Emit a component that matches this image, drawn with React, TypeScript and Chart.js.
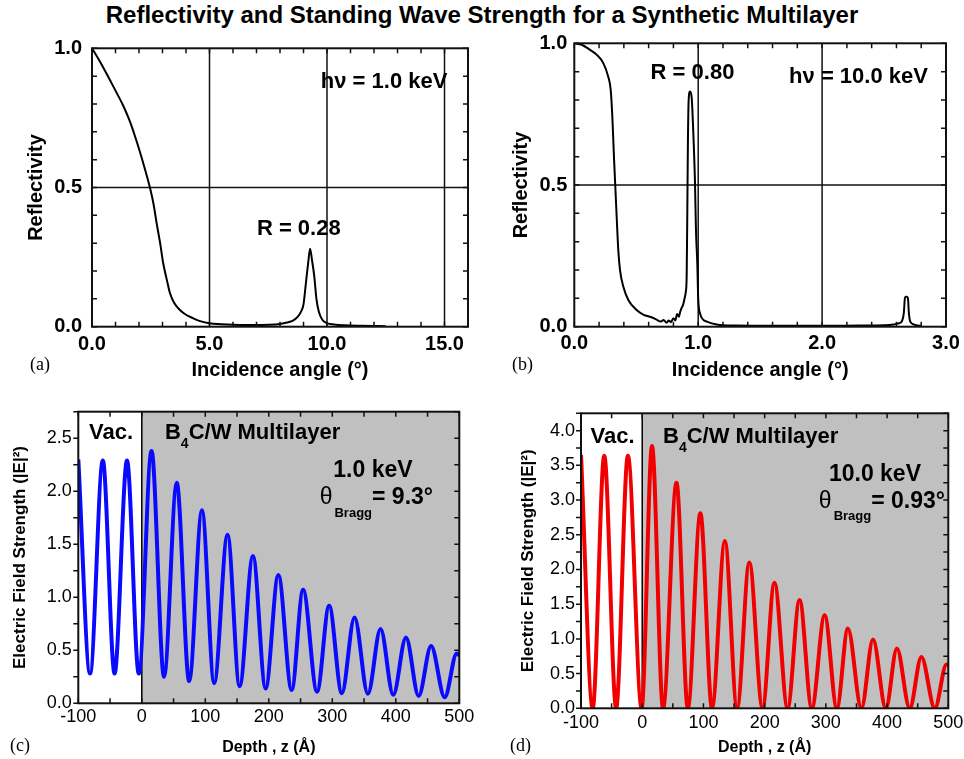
import React, { useEffect, useRef } from "react";
import { Chart, registerables } from "chart.js";

Chart.register(...registerables);

const SANS = "'Liberation Sans', Arial, Helvetica, sans-serif";
const SERIF = "'Liberation Serif', 'Times New Roman', serif";

const MAIN_TITLE = "Reflectivity and Standing Wave Strength for a Synthetic Multilayer";

// ---------- Panel (a): reflectivity at 1.0 keV ----------
const angleA = [0, 0.25, 0.49, 0.8, 1.05, 1.34, 1.6, 1.83, 2.05, 2.26, 2.47, 2.62, 2.75, 2.9, 3.03, 3.18, 3.32, 3.5, 3.74, 4.0, 4.31, 4.6, 5.0, 5.5, 6.0, 6.5, 7.0, 7.5, 8.0, 8.3, 8.55, 8.75, 8.9, 9.0, 9.1, 9.2, 9.28, 9.36, 9.46, 9.55, 9.65, 9.8, 10.0, 10.3, 10.8, 11.5, 12.5];
const reflA = [1.0, 0.965, 0.929, 0.88, 0.84, 0.792, 0.74, 0.684, 0.625, 0.564, 0.498, 0.44, 0.372, 0.3, 0.228, 0.17, 0.12, 0.085, 0.06, 0.043, 0.03, 0.02, 0.012, 0.009, 0.007, 0.006, 0.006, 0.007, 0.01, 0.015, 0.022, 0.035, 0.055, 0.08, 0.155, 0.23, 0.28, 0.24, 0.18, 0.1, 0.055, 0.025, 0.013, 0.008, 0.005, 0.003, 0.002];
const xTicksA = [0, 5, 10, 15];
const gridXA = [5, 10, 15];

// ---------- Panel (b): reflectivity at 10.0 keV ----------
const angleB = [0, 0.06, 0.127, 0.18, 0.234, 0.274, 0.294, 0.307, 0.32, 0.331, 0.342, 0.355, 0.369, 0.396, 0.436, 0.503, 0.56, 0.611, 0.66, 0.7, 0.72, 0.746, 0.76, 0.78, 0.8, 0.815, 0.83, 0.845, 0.853, 0.865, 0.88, 0.89, 0.899, 0.907, 0.912, 0.917, 0.923, 0.934, 0.947, 0.96, 0.974, 0.982, 0.993, 1.0, 1.015, 1.04, 1.07, 1.15, 1.3, 1.6, 2.0, 2.3, 2.5, 2.58, 2.62, 2.645, 2.66, 2.668, 2.675, 2.685, 2.693, 2.7, 2.71, 2.73, 2.76, 2.8];
const reflB = [1.0, 0.995, 0.977, 0.96, 0.93, 0.882, 0.835, 0.741, 0.6, 0.494, 0.388, 0.27, 0.2, 0.141, 0.094, 0.059, 0.042, 0.035, 0.026, 0.018, 0.024, 0.014, 0.022, 0.016, 0.03, 0.022, 0.045, 0.035, 0.05, 0.065, 0.08, 0.1, 0.12, 0.18, 0.4, 0.65, 0.8, 0.83, 0.81, 0.69, 0.51, 0.34, 0.22, 0.1, 0.047, 0.025, 0.018, 0.008, 0.004, 0.003, 0.003, 0.004, 0.005, 0.008, 0.012, 0.02, 0.05, 0.1, 0.106, 0.106, 0.1, 0.05, 0.02, 0.01, 0.005, 0.003];
const xTicksB = [0, 1, 2, 3];
const gridXB = [1, 2];

const yTicksAB = [0, 0.5, 1.0];
const gridYAB = [0.5];

// ---------- Panel (c): |E|^2 at 1.0 keV ----------
const depthC = [-100, -81.5, -61.4, -42.9, -23.3, -4.8, 15.3, 35, 55, 74.6, 94.7, 114, 135, 154, 175, 195, 215, 236, 254, 276, 295, 315, 335, 356, 376, 396, 416, 436, 455.6, 477, 496, 500];
const fieldC = [2.3, 0.28, 2.29, 0.28, 2.29, 0.28, 2.38, 0.25, 2.08, 0.21, 1.82, 0.19, 1.59, 0.16, 1.39, 0.14, 1.21, 0.125, 1.07, 0.11, 0.92, 0.095, 0.81, 0.09, 0.7, 0.08, 0.62, 0.07, 0.54, 0.056, 0.47, 0.45];
const yTicksC = [0, 0.5, 1.0, 1.5, 2.0, 2.5];

// ---------- Panel (d): |E|^2 at 10.0 keV ----------
const depthD = [-100, -80.9, -62, -42.6, -23.4, -1, 16, 34, 56, 74.5, 95, 114, 135, 155, 175, 196.5, 216, 237.5, 257, 277, 298, 318, 336, 358, 377, 398, 416, 437, 456, 478, 497, 500];
const fieldD = [3.65, 0, 3.64, 0, 3.64, 0, 3.78, 0, 3.25, 0, 2.81, 0, 2.41, 0, 2.1, 0, 1.81, 0, 1.56, 0, 1.34, 0, 1.15, 0, 0.99, 0, 0.86, 0, 0.74, 0, 0.63, 0.62];
const yTicksD = [0, 0.5, 1.0, 1.5, 2.0, 2.5, 3.0, 3.5, 4.0];

const xTicksCD = [-100, 0, 100, 200, 300, 400, 500];

type Part = { text: string; font: string; dy?: number; gap?: number };
type Ann = { x: number; y: number; align: "left" | "center" | "right"; parts: Part[] };

type PanelCfg = {
  box: { x: number; y: number; w: number; h: number };
  area: { l: number; t: number; r: number; b: number };
  xs: number[];
  ys: number[];
  color: string;
  lineWidth: number;
  xMin: number; xMax: number; yMin: number; yMax: number;
  xTicks: number[]; yTicks: number[];
  xDigits: number; yDigits: number;
  tickFont: { size: number; weight: string };
  xTitle: string; yTitle: string;
  xTitleSize: number; yTitleSize: number;
  xLabelPad: number; yLabelPad: number;
  xTitlePad: number; yTitlePad: number;
  minorX: number; minorY: number;
  gridX: number[]; gridY: number[];
  shadeFrom: number | null;
  leftTicksOut: boolean;
  anns: Ann[];
};

function steps(min: number, max: number, step: number): number[] {
  const out: number[] = [];
  const n = Math.round((max - min) / step);
  for (let i = 0; i <= n; i++) out.push(min + i * step);
  return out;
}

function makePlugin(cfg: PanelCfg) {
  return {
    id: "panelDecor",
    beforeDatasetsDraw(chart: any) {
      const { ctx, chartArea: ca } = chart;
      const xs = chart.scales.x, ys = chart.scales.y;
      ctx.save();
      if (cfg.shadeFrom !== null) {
        const px = xs.getPixelForValue(cfg.shadeFrom);
        ctx.fillStyle = "#c0c0c0";
        ctx.fillRect(px, ca.top, ca.right - px, ca.bottom - ca.top);
        ctx.strokeStyle = "#000";
        ctx.lineWidth = 1.5;
        ctx.beginPath();
        ctx.moveTo(px, ca.top);
        ctx.lineTo(px, ca.bottom);
        ctx.stroke();
      }
      ctx.strokeStyle = "#111";
      ctx.lineWidth = 1.5;
      for (const g of cfg.gridX) {
        const px = xs.getPixelForValue(g);
        ctx.beginPath(); ctx.moveTo(px, ca.top); ctx.lineTo(px, ca.bottom); ctx.stroke();
      }
      for (const g of cfg.gridY) {
        const py = ys.getPixelForValue(g);
        ctx.beginPath(); ctx.moveTo(ca.left, py); ctx.lineTo(ca.right, py); ctx.stroke();
      }
      ctx.restore();
    },
    afterDatasetsDraw(chart: any) {
      const { ctx, chartArea: ca } = chart;
      const xs = chart.scales.x, ys = chart.scales.y;
      ctx.save();
      ctx.strokeStyle = "#111";
      ctx.lineWidth = 1.5;
      const L = 5;
      for (const v of steps(cfg.xMin, cfg.xMax, cfg.minorX)) {
        const px = xs.getPixelForValue(v);
        ctx.beginPath();
        ctx.moveTo(px, ca.bottom); ctx.lineTo(px, ca.bottom - L);
        ctx.moveTo(px, ca.top); ctx.lineTo(px, ca.top + L);
        ctx.stroke();
      }
      for (const v of steps(cfg.yMin, cfg.yMax, cfg.minorY)) {
        const py = ys.getPixelForValue(v);
        ctx.beginPath();
        if (cfg.leftTicksOut) { ctx.moveTo(ca.left, py); ctx.lineTo(ca.left - L, py); }
        else { ctx.moveTo(ca.left, py); ctx.lineTo(ca.left + L, py); }
        ctx.moveTo(ca.right, py); ctx.lineTo(ca.right - L, py);
        ctx.stroke();
      }
      ctx.lineWidth = 2;
      ctx.strokeStyle = "#111";
      ctx.strokeRect(ca.left, ca.top, ca.right - ca.left, ca.bottom - ca.top);

      for (const a of cfg.anns) {
        const widths = a.parts.map((p) => { ctx.font = p.font; return ctx.measureText(p.text).width + (p.gap || 0); });
        const total = widths.reduce((s, w) => s + w, 0);
        let px = xs.getPixelForValue(a.x);
        if (a.align === "center") px -= total / 2;
        else if (a.align === "right") px -= total;
        const py = ys.getPixelForValue(a.y);
        a.parts.forEach((p, i) => {
          ctx.font = p.font;
          ctx.fillStyle = "#000";
          ctx.textAlign = "left";
          ctx.textBaseline = "middle";
          ctx.fillText(p.text, px + (p.gap || 0), py + (p.dy || 0));
          px += widths[i];
        });
      }
      ctx.restore();
    },
  };
}

function buildConfig(cfg: PanelCfg): any {
  const { box, area } = cfg;
  const padTop = area.t - box.y;
  const padRight = box.x + box.w - area.r;
  const yAxisW = area.l - box.x;
  const xAxisH = box.y + box.h - area.b;
  const pts = cfg.xs.map((x, i) => ({ x, y: cfg.ys[i] }));
  return {
    type: "line",
    data: {
      datasets: [
        {
          data: pts,
          borderColor: cfg.color,
          borderWidth: cfg.lineWidth,
          pointRadius: 0,
          fill: false,
          cubicInterpolationMode: "monotone",
        },
      ],
    },
    options: {
      animation: false,
      responsive: false,
      maintainAspectRatio: false,
      devicePixelRatio: 1,
      events: [],
      layout: { padding: { left: 0, top: padTop, right: padRight, bottom: 0 } },
      plugins: { legend: { display: false }, tooltip: { enabled: false }, title: { display: false } },
      scales: {
        x: {
          type: "linear",
          position: "bottom",
          min: cfg.xMin,
          max: cfg.xMax,
          grid: { display: false, drawTicks: false },
          border: { display: false },
          ticks: {
            color: "#000",
            font: { family: SANS, size: cfg.tickFont.size, weight: cfg.tickFont.weight },
            padding: cfg.xLabelPad,
            maxRotation: 0,
            autoSkip: false,
            callback: (v: number) => v.toFixed(cfg.xDigits),
          },
          afterBuildTicks: (s: any) => { s.ticks = cfg.xTicks.map((v) => ({ value: v })); },
          afterFit: (s: any) => { s.height = xAxisH; s.paddingLeft = 0; s.paddingRight = 0; },
          title: {
            display: true,
            text: cfg.xTitle,
            color: "#000",
            font: { family: SANS, size: cfg.xTitleSize, weight: "bold" },
            padding: { top: 0, bottom: cfg.xTitlePad },
          },
        },
        y: {
          type: "linear",
          position: "left",
          min: cfg.yMin,
          max: cfg.yMax,
          grid: { display: false, drawTicks: false },
          border: { display: false },
          ticks: {
            color: "#000",
            font: { family: SANS, size: cfg.tickFont.size, weight: cfg.tickFont.weight },
            padding: cfg.yLabelPad,
            autoSkip: false,
            callback: (v: number) => v.toFixed(cfg.yDigits),
          },
          afterBuildTicks: (s: any) => { s.ticks = cfg.yTicks.map((v) => ({ value: v })); },
          afterFit: (s: any) => { s.width = yAxisW; s.paddingTop = 0; s.paddingBottom = 0; },
          title: {
            display: true,
            text: cfg.yTitle,
            color: "#000",
            font: { family: SANS, size: cfg.yTitleSize, weight: "bold" },
            padding: { top: cfg.yTitlePad, bottom: 0 },
          },
        },
      },
    },
    plugins: [makePlugin(cfg)],
  };
}

const B22 = `bold 22px ${SANS}`;
const B23 = `bold 23px ${SANS}`;
const SUB4 = `bold 14px ${SANS}`;
const SUBB = `bold 13px ${SANS}`;
const THETA = `23px ${SANS}`;

const panelA: PanelCfg = {
  box: { x: 0, y: 30, w: 480, h: 352 },
  area: { l: 92, t: 48.3, r: 468, b: 326.7 },
  xs: angleA, ys: reflA, color: "#000", lineWidth: 2,
  xMin: 0, xMax: 16, yMin: 0, yMax: 1,
  xTicks: xTicksA, yTicks: yTicksAB, xDigits: 1, yDigits: 1,
  tickFont: { size: 20, weight: "bold" },
  xTitle: "Incidence angle (°)", yTitle: "Reflectivity",
  xTitleSize: 20, yTitleSize: 20,
  xLabelPad: 6, yLabelPad: 10, xTitlePad: 0, yTitlePad: 24.7,
  minorX: 1, minorY: 0.1,
  gridX: gridXA, gridY: gridYAB,
  shadeFrom: null, leftTicksOut: false,
  anns: [
    { x: 12.43, y: 0.88, align: "center", parts: [{ text: "hν = 1.0 keV", font: B22 }] },
    { x: 8.8, y: 0.351, align: "center", parts: [{ text: "R = 0.28", font: B22 }] },
  ],
};

const panelB: PanelCfg = {
  box: { x: 480, y: 30, w: 484, h: 352 },
  area: { l: 574.3, t: 43.3, r: 946, b: 326.7 },
  xs: angleB, ys: reflB, color: "#000", lineWidth: 2,
  xMin: 0, xMax: 3, yMin: 0, yMax: 1,
  xTicks: xTicksB, yTicks: yTicksAB, xDigits: 1, yDigits: 1,
  tickFont: { size: 20, weight: "bold" },
  xTitle: "Incidence angle (°)", yTitle: "Reflectivity",
  xTitleSize: 20, yTitleSize: 20,
  xLabelPad: 4.5, yLabelPad: 7, xTitlePad: 0, yTitlePad: 29.7,
  minorX: 0.2, minorY: 0.1,
  gridX: gridXB, gridY: gridYAB,
  shadeFrom: null, leftTicksOut: false,
  anns: [
    { x: 0.954, y: 0.894, align: "center", parts: [{ text: "R = 0.80", font: B22 }] },
    { x: 2.294, y: 0.882, align: "center", parts: [{ text: "hν = 10.0 keV", font: B22 }] },
  ],
};

const panelC: PanelCfg = {
  box: { x: 0, y: 390, w: 480, h: 369 },
  area: { l: 78.3, t: 411.7, r: 459.3, b: 703.3 },
  xs: depthC, ys: fieldC, color: "#0a0aff", lineWidth: 4,
  xMin: -100, xMax: 500, yMin: 0, yMax: 2.75,
  xTicks: xTicksCD, yTicks: yTicksC, xDigits: 0, yDigits: 1,
  tickFont: { size: 18, weight: "normal" },
  xTitle: "Depth , z (Å)", yTitle: "Electric Field Strength (|E|²)",
  xTitleSize: 16, yTitleSize: 17,
  xLabelPad: 3, yLabelPad: 6.6, xTitlePad: 1.4, yTitlePad: 9.8,
  minorX: 50, minorY: 0.25,
  gridX: [], gridY: [],
  shadeFrom: 0, leftTicksOut: true,
  anns: [
    { x: -48.5, y: 2.552, align: "center", parts: [{ text: "Vac.", font: B22 }] },
    { x: 36.5, y: 2.552, align: "left", parts: [{ text: "B", font: B22 }, { text: "4", font: SUB4, dy: 11 }, { text: "C/W Multilayer", font: B22 }] },
    { x: 364, y: 2.193, align: "center", parts: [{ text: "1.0 keV", font: B23 }] },
    { x: 458.6, y: 1.936, align: "right", parts: [{ text: "θ", font: THETA }, { text: "Bragg", font: SUBB, dy: 15, gap: 2 }, { text: "= 9.3°", font: B23 }] },
  ],
};

const panelD: PanelCfg = {
  box: { x: 480, y: 390, w: 484, h: 369 },
  area: { l: 581, t: 413.3, r: 948.3, b: 708.3 },
  xs: depthD, ys: fieldD, color: "#f00000", lineWidth: 4,
  xMin: -100, xMax: 500, yMin: 0, yMax: 4.25,
  xTicks: xTicksCD, yTicks: yTicksD, xDigits: 0, yDigits: 1,
  tickFont: { size: 18, weight: "normal" },
  xTitle: "Depth , z (Å)", yTitle: "Electric Field Strength (|E|²)",
  xTitleSize: 16, yTitleSize: 17,
  xLabelPad: 4, yLabelPad: 6, xTitlePad: 1.4, yTitlePad: 37.8,
  minorX: 50, minorY: 0.25,
  gridX: [], gridY: [],
  shadeFrom: 0, leftTicksOut: true,
  anns: [
    { x: -48.5, y: 3.904, align: "center", parts: [{ text: "Vac.", font: B22 }] },
    { x: 34, y: 3.904, align: "left", parts: [{ text: "B", font: B22 }, { text: "4", font: SUB4, dy: 11 }, { text: "C/W Multilayer", font: B22 }] },
    { x: 380.2, y: 3.371, align: "center", parts: [{ text: "10.0 keV", font: B23 }] },
    { x: 494.6, y: 2.977, align: "right", parts: [{ text: "θ", font: THETA }, { text: "Bragg", font: SUBB, dy: 15, gap: 2 }, { text: "= 0.93°", font: B23 }] },
  ],
};

function Panel({ cfg }: { cfg: PanelCfg }) {
  const ref = useRef<HTMLCanvasElement>(null);
  useEffect(() => {
    if (!ref.current) return;
    const chart = new Chart(ref.current, buildConfig(cfg));
    return () => chart.destroy();
  }, [cfg]);
  const { box } = cfg;
  return (
    <canvas
      ref={ref}
      width={box.w}
      height={box.h}
      style={{ position: "absolute", left: box.x, top: box.y, width: box.w, height: box.h }}
    />
  );
}

const labelStyle = (left: number, top: number): React.CSSProperties => ({
  position: "absolute",
  left,
  top,
  fontFamily: SERIF,
  fontSize: 18,
  lineHeight: "20px",
  color: "#000",
});

export default function App() {
  return (
    <div
      style={{
        position: "absolute",
        left: 0,
        top: 0,
        width: 964,
        height: 759,
        background: "#fff",
        overflow: "hidden",
      }}
    >
      <div
        style={{
          position: "absolute",
          left: 0,
          top: 1,
          width: 964,
          textAlign: "center",
          fontFamily: SANS,
          fontWeight: "bold",
          fontSize: 24,
          lineHeight: "28px",
          color: "#000",
        }}
      >
        {MAIN_TITLE}
      </div>
      <Panel cfg={panelA} />
      <Panel cfg={panelB} />
      <Panel cfg={panelC} />
      <Panel cfg={panelD} />
      <div style={labelStyle(30, 354)}>(a)</div>
      <div style={labelStyle(512, 354)}>(b)</div>
      <div style={labelStyle(10, 735)}>(c)</div>
      <div style={labelStyle(510, 735)}>(d)</div>
    </div>
  );
}
